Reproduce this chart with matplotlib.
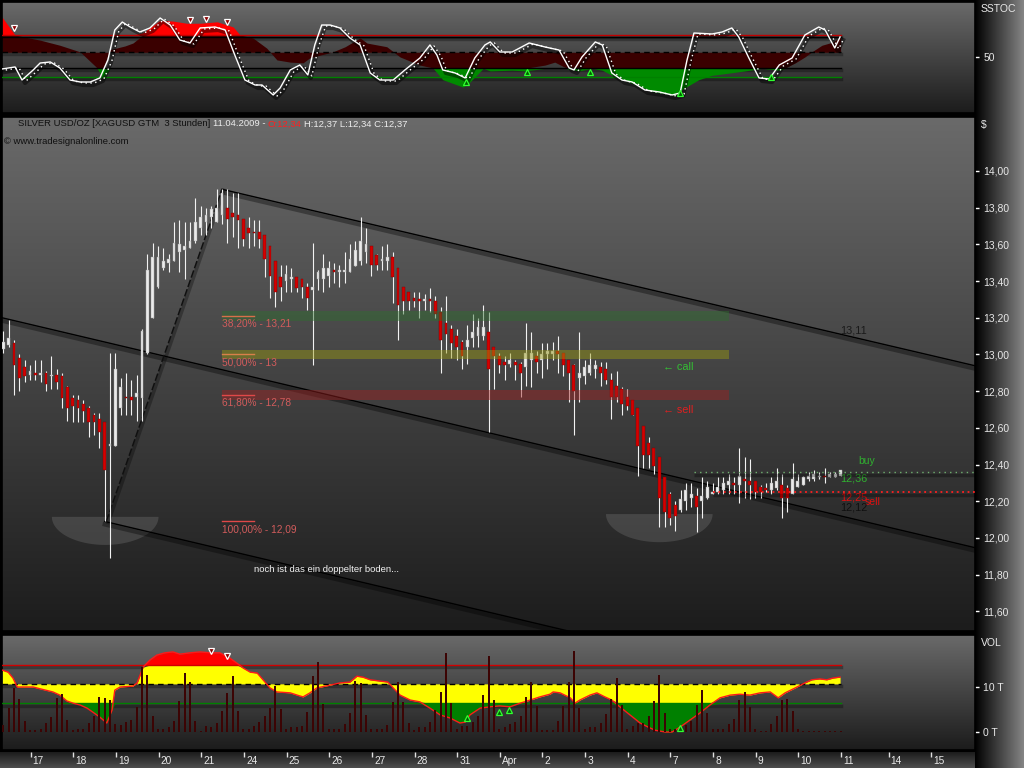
import numpy as np
import matplotlib
matplotlib.use("Agg")
import matplotlib.pyplot as plt
from matplotlib.colors import LinearSegmentedColormap
from matplotlib.transforms import offset_copy

plt.rcParams['font.family'] = ['Liberation Sans', 'DejaVu Sans']

# ---- XAGUSD 3h bars ----
opens = [13.03, 13.05, 13.06, 12.98, 12.93, 12.89, 12.90, 12.89, 12.90, 12.88,
         12.89, 12.88, 12.82, 12.76, 12.75, 12.73, 12.71, 12.67, 12.65, 12.63,
         12.50, 12.50, 12.71, 12.77, 12.77, 12.77, 12.76, 13.01, 13.20, 13.37,
         13.47, 13.50, 13.51, 13.56, 13.57, 13.58, 13.62, 13.69, 13.72, 13.75,
         13.72, 13.76, 13.80, 13.77, 13.76, 13.74, 13.69, 13.67, 13.67, 13.65,
         13.59, 13.51, 13.42, 13.40, 13.41, 13.42, 13.41, 13.37, 13.35, 13.41,
         13.41, 13.43, 13.46, 13.45, 13.45, 13.45, 13.48, 13.51, 13.56, 13.59,
         13.54, 13.51, 13.51, 13.53, 13.47, 13.37, 13.34, 13.31, 13.30, 13.29,
         13.30, 13.29, 13.23, 13.17, 13.14, 13.10, 13.07, 13.04, 13.09, 13.10,
         13.10, 13.12, 13.04, 12.99, 12.96, 12.95, 12.96, 12.95, 12.93, 12.97,
         12.99, 12.97, 13.00, 13.00, 13.02, 13.01, 12.97, 12.94, 12.87, 12.88,
         12.90, 12.92, 12.93, 12.92, 12.86, 12.83, 12.81, 12.77, 12.75, 12.71,
         12.61, 12.52, 12.49, 12.44, 12.33, 12.24, 12.18, 12.15, 12.20, 12.22,
         12.23, 12.20, 12.22, 12.24, 12.25, 12.26, 12.29, 12.30, 12.29, 12.32,
         12.31, 12.31, 12.28, 12.27, 12.26, 12.27, 12.29, 12.27, 12.24, 12.28,
         12.29, 12.32, 12.32, 12.33, 12.34, 12.33, 12.33, 12.34]
highs = [13.13, 13.19, 13.08, 13.00, 12.97, 12.94, 12.97, 12.97, 12.91, 12.99,
         12.92, 12.90, 12.83, 12.78, 12.78, 12.75, 12.72, 12.68, 12.68, 12.63,
         13.01, 13.01, 12.87, 12.90, 12.86, 12.89, 13.14, 13.55, 13.61, 13.59,
         13.58, 13.55, 13.72, 13.73, 13.72, 13.72, 13.85, 13.81, 13.80, 13.81,
         13.90, 13.90, 13.90, 13.88, 13.88, 13.74, 13.75, 13.73, 13.73, 13.65,
         13.59, 13.51, 13.49, 13.49, 13.47, 13.42, 13.41, 13.39, 13.61, 13.46,
         13.55, 13.51, 13.50, 13.49, 13.56, 13.60, 13.62, 13.75, 13.69, 13.59,
         13.55, 13.59, 13.60, 13.56, 13.47, 13.37, 13.34, 13.34, 13.34, 13.33,
         13.36, 13.32, 13.26, 13.32, 13.16, 13.14, 13.08, 13.16, 13.22, 13.20,
         13.27, 13.23, 13.04, 13.01, 12.99, 13.01, 12.97, 12.96, 13.17, 13.12,
         13.02, 13.06, 13.06, 13.07, 13.10, 13.01, 12.97, 12.95, 13.12, 12.97,
         13.01, 12.97, 12.96, 12.96, 12.90, 12.91, 12.82, 12.81, 12.75, 12.71,
         12.61, 12.55, 12.49, 12.44, 12.33, 12.25, 12.20, 12.26, 12.30, 12.30,
         12.27, 12.33, 12.31, 12.30, 12.33, 12.33, 12.35, 12.33, 12.49, 12.44,
         12.43, 12.31, 12.29, 12.30, 12.33, 12.38, 12.35, 12.29, 12.41, 12.35,
         12.34, 12.36, 12.37, 12.36, 12.38, 12.36, 12.36, 12.37]
lows = [13.01, 13.04, 12.78, 12.80, 12.85, 12.86, 12.86, 12.85, 12.80, 12.81,
        12.81, 12.71, 12.64, 12.63, 12.63, 12.63, 12.55, 12.56, 12.49, 12.09,
        11.89, 12.50, 12.67, 12.67, 12.67, 12.64, 12.64, 13.00, 13.20, 13.36,
        13.46, 13.45, 13.51, 13.45, 13.41, 13.58, 13.61, 13.65, 13.65, 13.69,
        13.72, 13.71, 13.61, 13.64, 13.58, 13.59, 13.58, 13.59, 13.58, 13.42,
        13.31, 13.26, 13.29, 13.34, 13.34, 13.34, 13.31, 13.24, 12.94, 13.35,
        13.34, 13.37, 13.39, 13.37, 13.39, 13.45, 13.48, 13.49, 13.50, 13.43,
        13.46, 13.46, 13.46, 13.28, 13.08, 13.22, 13.24, 13.26, 13.20, 13.24,
        13.23, 13.20, 12.90, 13.01, 12.98, 12.97, 12.92, 12.95, 13.04, 13.04,
        13.08, 12.58, 12.81, 12.90, 12.86, 12.93, 12.86, 12.77, 12.83, 12.82,
        12.90, 12.87, 12.92, 12.97, 12.90, 12.88, 12.74, 12.56, 12.74, 12.84,
        12.89, 12.87, 12.83, 12.84, 12.65, 12.74, 12.67, 12.70, 12.67, 12.34,
        12.38, 12.38, 12.35, 12.06, 12.06, 12.07, 12.04, 12.14, 12.15, 12.17,
        12.03, 12.11, 12.21, 12.24, 12.24, 12.24, 12.24, 12.24, 12.19, 12.22,
        12.21, 12.22, 12.22, 12.25, 12.24, 12.26, 12.11, 12.14, 12.24, 12.28,
        12.29, 12.31, 12.31, 12.32, 12.30, 12.33, 12.33, 12.34]
closes = [13.07, 13.09, 12.94, 12.87, 12.88, 12.91, 12.89, 12.90, 12.84, 12.89,
          12.85, 12.76, 12.71, 12.72, 12.71, 12.69, 12.63, 12.63, 12.58, 12.37,
          12.51, 12.92, 12.82, 12.76, 12.75, 12.79, 13.13, 13.46, 13.53, 13.53,
          13.51, 13.52, 13.61, 13.60, 13.59, 13.62, 13.72, 13.75, 13.76, 13.79,
          13.80, 13.88, 13.74, 13.75, 13.73, 13.63, 13.66, 13.66, 13.63, 13.52,
          13.43, 13.34, 13.37, 13.44, 13.42, 13.36, 13.37, 13.31, 13.37, 13.45,
          13.47, 13.47, 13.45, 13.46, 13.46, 13.52, 13.57, 13.62, 13.60, 13.49,
          13.49, 13.52, 13.53, 13.42, 13.27, 13.29, 13.29, 13.29, 13.29, 13.30,
          13.29, 13.22, 13.08, 13.11, 13.06, 13.04, 12.99, 13.08, 13.12, 13.15,
          13.15, 12.92, 12.99, 12.94, 12.94, 12.97, 12.94, 12.90, 13.01, 13.01,
          12.96, 13.00, 13.02, 13.02, 13.00, 12.94, 12.90, 12.80, 12.90, 12.93,
          12.94, 12.94, 12.90, 12.86, 12.77, 12.77, 12.73, 12.72, 12.67, 12.50,
          12.45, 12.45, 12.39, 12.22, 12.14, 12.11, 12.12, 12.21, 12.26, 12.24,
          12.17, 12.23, 12.28, 12.25, 12.28, 12.30, 12.31, 12.29, 12.34, 12.31,
          12.29, 12.25, 12.25, 12.26, 12.30, 12.31, 12.22, 12.22, 12.32, 12.31,
          12.33, 12.34, 12.35, 12.34, 12.33, 12.35, 12.35, 12.37]

# volume in thousands (T)
volume = [1.6, 5.3, 9.8, 7.3, 2.4, 0.4, 0.4, 0.7, 2.0, 3.3,
          7.6, 8.4, 2.6, 0.4, 0.7, 0.7, 2.0, 3.6, 7.8, 7.6,
          7.1, 1.8, 1.6, 2.2, 2.6, 5.6, 14.4, 12.7, 3.6, 0.6,
          0.6, 1.1, 2.4, 6.9, 13.1, 11.1, 2.4, 0.2, 1.3, 1.1,
          2.0, 4.7, 8.7, 12.4, 4.7, 0.7, 0.7, 1.3, 2.2, 3.6,
          5.3, 10.2, 5.1, 0.6, 1.1, 1.1, 1.3, 4.4, 12.4, 15.6,
          6.2, 0.6, 0.7, 0.6, 1.8, 4.2, 11.3, 10.9, 3.8, 0.7,
          0.6, 0.6, 1.6, 6.7, 11.1, 6.7, 2.0, 0.4, 1.1, 1.1,
          2.2, 4.9, 8.9, 17.6, 6.4, 0.7, 1.3, 1.3, 2.2, 3.6,
          8.2, 16.9, 7.1, 0.6, 1.1, 1.8, 2.2, 3.6, 7.8, 11.1,
          5.8, 0.4, 0.4, 0.4, 2.4, 5.8, 11.1, 18.0, 5.3, 0.7,
          1.1, 1.1, 2.0, 4.0, 7.3, 12.0, 6.0, 0.6, 1.3, 2.0,
          2.0, 3.6, 6.9, 12.7, 4.2, 0.6, 0.7, 1.1, 1.6, 2.4,
          6.0, 9.3, 4.2, 0.6, 0.6, 0.6, 1.8, 2.9, 7.1, 8.9,
          5.6, 0.6, 0.2, 0.2, 1.8, 3.6, 7.1, 7.3, 4.7, 0.6,
          0.15, 0.15, 0.15, 0.15, 0.15, 0.15, 0.15, 0.15]

# volume average curve (bar position, T)
vol_ma_bar = [-0.3, 0.9, 1.8, 2.6, 5.6, 6.9, 9.3, 10.6, 11.9, 13.1, 14.4, 15.7,
              16.8, 18.1, 19.4, 20.4, 20.9, 21.9, 24.3, 25.1, 26.2, 27.5, 28.8,
              30.3, 31.8, 33.1, 35.0, 36.9, 38.8, 40.6, 42.5, 43.8, 45.0, 46.3,
              47.6, 48.7, 50.0, 51.3, 53.8, 55.1, 56.2, 57.5, 58.8, 61.2, 63.1,
              65.0, 66.3, 67.4, 68.8, 72.1, 73.1, 74.4, 76.3, 78.1, 80.0, 81.9,
              83.8, 85.6, 86.6, 87.5, 89.4, 91.3, 93.1, 95.0, 96.9, 98.8, 100.6,
              102.5, 103.1, 104.4, 106.3, 107.2, 108.1, 110.0, 111.3, 112.8,
              114.1, 115.6, 117.5, 119.4, 120.9, 122.2, 124.1, 125.4, 126.9,
              128.8, 130.6, 132.5, 134.4, 136.3, 138.1, 140.0, 141.9, 143.8,
              145.3, 146.6, 148.5, 150.3, 151.6, 153.1, 154.4, 155.6, 156.9]
vol_ma = [13.8, 13.3, 12.0, 10.0, 10.0, 9.6, 8.9, 8.2, 6.9, 6.4, 6.0, 5.3,
          4.4, 3.3, 2.0, 4.9, 9.3, 10.0, 10.2, 10.9, 14.4, 16.0, 17.1,
          17.6, 17.8, 17.3, 17.6, 17.8, 17.6, 17.6, 16.4, 15.3, 14.2, 13.3,
          13.1, 11.6, 9.8, 8.9, 8.7, 8.2, 7.8, 8.7, 9.8, 10.4, 10.9,
          11.1, 12.4, 12.2, 11.6, 11.1, 9.8, 8.2, 7.1, 6.7, 5.3, 3.8,
          3.1, 2.0, 2.2, 3.8, 5.3, 5.6, 5.8, 5.6, 6.4, 7.1, 7.8,
          8.4, 8.9, 8.7, 7.6, 6.4, 7.1, 8.2, 8.7, 7.8,
          7.1, 5.6, 3.8, 2.0, 1.1, 0.4, 0.0, 0.0, 1.1,
          2.7, 4.2, 6.0, 7.6, 8.2, 8.4, 8.2, 8.7, 8.9,
          7.6, 8.7, 9.8, 10.9, 11.6, 11.8, 11.6, 12.0, 12.2]

# SSTOC: filled oscillator and %K line (bar position, value)
sst_fill_bar = [-0.3, 1.2, 2.2, 4.1, 6.9, 10.6, 14.4, 17.6, 18.7, 20.0, 22.8,
                24.3, 26.2, 29.4, 31.8, 34.4, 36.9, 40.1, 43.1, 44.4, 46.8,
                49.4, 51.3, 53.8, 56.2, 57.5, 61.8, 64.1, 66.9, 68.2, 71.9,
                74.4, 78.1, 80.6, 82.4, 86.2, 87.5, 90.0, 91.3, 95.4, 97.8,
                101.6, 103.4, 105.3, 107.9, 110.4, 112.3, 114.1, 117.9, 122.2,
                125.9, 127.8, 130.4, 132.9, 136.1, 139.1, 142.3, 145.5, 146.6,
                148.5, 150.3, 151.6, 153.5, 155.4, 157.0]
sst_fill = [105, 90, 80, 77, 73, 66, 57, 35, 21, 60, 65, 69, 83, 100, 99, 96,
            96, 98, 91, 80, 76, 62, 46, 43, 42, 49, 57, 64, 76, 69, 64, 50, 39,
            35, 19, 9, 16, 35, 31, 32, 31, 39, 43, 36, 31, 35, 32, 25, 14, 2,
            -2, 8, 19, 25, 28, 31, 35, 32, 35, 42, 50, 57, 66, 70, 77]
sst_k_bar = [-0.3, 2.2, 3.5, 5.6, 6.9, 8.8, 10.6, 12.5, 14.4, 16.3, 18.1, 19.6,
             20.9, 22.3, 23.8, 25.6, 27.5, 29.4, 31.3, 33.1, 35.0, 36.9, 39.7,
             41.6, 43.4, 45.3, 47.2, 48.5, 50.6, 51.9, 53.8, 55.6, 57.1, 58.4,
             59.7, 61.3, 63.1, 65.0, 66.9, 68.8, 70.6, 73.1, 75.3, 78.1, 80.0,
             81.3, 82.4, 84.7, 86.6, 88.4, 90.3, 91.3, 93.1, 95.4, 98.6, 101.6,
             104.2, 106.1, 107.0, 108.5, 111.0, 112.3, 114.1, 116.0, 117.9,
             120.3, 123.0, 125.4, 126.9, 128.2, 129.5, 132.9, 134.8, 136.6,
             137.9, 139.8, 141.7, 143.6, 145.5, 147.9, 150.3, 152.9, 154.1,
             155.9, 156.9]
sst_k = [33.6, 36.4, 18.6, 32.3, 41.8, 43.2, 35.0, 18.6, 15.9, 15.9, 21.4, 45.9,
         86.8, 97.7, 90.9, 84.1, 89.6, 103.2, 93.6, 73.2, 69.1, 89.6, 90.9,
         86.8, 52.7, 18.6, 11.8, 11.8, -1.8, 7.7, 32.3, 39.1, 25.5, 66.4,
         93.6, 93.6, 89.6, 75.9, 66.4, 28.2, 18.6, 18.6, 32.3, 48.6, 66.4,
         52.7, 32.3, 28.2, 21.4, 48.6, 66.4, 70.5, 56.8, 56.8, 69.1, 63.6,
         59.5, 35.0, 32.3, 50.0, 70.5, 66.4, 28.2, 18.6, 15.9,
         5.0, 2.3, -1.8, 0.9, 45.9, 82.7, 81.4, 84.1, 89.6,
         77.3, 48.6, 21.4, 20.0, 39.1, 48.6, 80.0, 90.9, 86.8,
         62.3, 77.3]
sst_sell_bar = [2.0, 35.0, 38.0, 41.9]
sst_sell = [89.6, 100.5, 101.8, 97.7]
sst_buy_bar = [86.8, 98.2, 110.0, 126.9, 144.0]
sst_buy = [15.9, 29.5, 29.5, 0.9, 22.7]
vol_sell_bar = [39.0, 41.9]
vol_sell = [18.0, 16.9]
vol_buy_bar = [86.9, 93.0, 94.8, 126.9]
vol_buy = [3.1, 4.4, 4.9, 0.9]

# drawn tools
fib_pct = ["38,20%", "50,00%", "61,80%", "100,00%"]
fib_val = [13.21, 13.00, 12.78, 12.09]
fib_txt = ["13,21", "13", "12,78", "12,09"]
upper_line = [(41, 13.90), (157, 13.11)]
mid_line = [(-0.25, 13.20), (157, 12.12)]
low_line_start = (19, 12.09)
rally_line = [(19.3, 12.09), (41, 13.90)]
bowls = [(19.1, 12.115), (123.0, 12.13)]
buy_level, sell_level = 12.36, 12.25

day_labels = ["17", "18", "19", "20", "21", "24", "25", "26", "27", "28", "31",
              "Apr", "2", "3", "4", "7", "8", "9", "10", "11", "14", "15"]
day_ticks = [5.1 + 8 * i for i in range(20)] + [166.0, 174.0]

XL = (-0.25, 182.2)
TXT = '#e8e8e8'


def fx(p):
    return p / 1024.0


def fy(p):
    return 1 - p / 768.0


def gradient(ax, c1, c2, horizontal=False):
    g = np.linspace(0, 1, 256)
    g = g.reshape(1, -1) if horizontal else g.reshape(-1, 1)
    cmap = LinearSegmentedColormap.from_list('g', [c1, c2])
    ax.imshow(g, cmap=cmap, aspect='auto', extent=[0, 1, 0, 1],
              transform=ax.transAxes, zorder=-10, interpolation='bilinear')


def shadow(ax, dx=1, dy=-2.5):
    return offset_copy(ax.transData, fig=fig, x=dx, y=dy, units='dots')


fig = plt.figure(figsize=(10.24, 7.68), dpi=100, facecolor='black')

# right scale strip and bottom date band
strip = fig.add_axes([fx(975), 0, fx(49), 1])
gradient(strip, '#000000', '#858585', horizontal=True)
strip.set_axis_off()

ax_b = fig.add_axes([0, 0, fx(975), 16 / 768])
gradient(ax_b, '#1c1c1c', '#4e4e4e')
ax_b.set_xlim(XL[0] - 2 / 5.333, XL[1])
ax_b.set_ylim(0, 1)
ax_b.set_xticks(day_ticks)
ax_b.set_yticks([])
ax_b.tick_params(axis='x', top=True, bottom=False, direction='in', length=3.5,
                 width=1, color='#e0e0e0', labelbottom=False)
for s in ax_b.spines.values():
    s.set_visible(False)
for t, lab in zip(day_ticks, day_labels):
    ax_b.text(t + 0.4, 0.42, lab, color=TXT, fontsize=7.3, ha='left',
              va='center', transform=ax_b.get_xaxis_transform())

ax_s = fig.add_axes([fx(2), fy(113), 973 / 1024, 111 / 768])
ax_p = fig.add_axes([fx(2), fy(631), 973 / 1024, 514 / 768])
ax_v = fig.add_axes([fx(2), fy(750), 973 / 1024, 115 / 768])
for ax in (ax_s, ax_p, ax_v):
    gradient(ax, '#6a6a6a', '#1c1c1c')
    for s in ax.spines.values():
        s.set_color('black')
        s.set_linewidth(1.2)
    ax.tick_params(axis='y', left=False, labelleft=False, right=True,
                   labelright=True, direction='out', length=3, width=1,
                   color='white', labelcolor=TXT, labelsize=7.5, pad=3)
    ax.tick_params(axis='x', bottom=False, labelbottom=False)

# ---------------- SSTOC panel ----------------
xs = np.array(sst_fill_bar)
cs = np.array(sst_fill, dtype=float)
for lvl, col, ls in [(80, '#c00000', '-'), (77.7, 'black', '-'),
                     (56.4, 'black', (0, (4, 3))), (34.5, 'black', '-'),
                     (22.3, '#008000', '-')]:
    ax_s.plot([XL[0], 157], [lvl, lvl], color='black', alpha=0.3, lw=2.5,
              transform=shadow(ax_s, 0, -2), zorder=1)
    ax_s.plot([XL[0], 157], [lvl, lvl], color=col, lw=1, ls=ls, zorder=3)
ax_s.fill_between(xs, 56.4, np.clip(cs, 34.5, 80), color='#3a0000', lw=0, zorder=2)
ax_s.fill_between(xs, 80, np.maximum(cs, 80), color='#ff0000', lw=0, zorder=2)
ax_s.fill_between(xs, 34.5, np.minimum(cs, 34.5), color='#008a00', lw=0, zorder=2)
ax_s.plot(sst_k_bar, sst_k, color='black', alpha=0.45, lw=3,
          transform=shadow(ax_s, 3, -3), zorder=4)
ax_s.plot(sst_k_bar, sst_k, color='white', lw=1, ls=(0, (1, 2.5)),
          transform=shadow(ax_s, 4, -1), zorder=5)
ax_s.plot(sst_k_bar, sst_k, color='white', lw=1, zorder=5)
ax_s.plot(sst_sell_bar, sst_sell, 'v', ms=5, mfc='#8a0000', mec='white',
          mew=0.9, zorder=6)
ax_s.plot(sst_buy_bar, sst_buy, '^', ms=5, mfc='#006000', mec='#30ff30',
          mew=0.9, zorder=6)
ax_s.set_xlim(XL)
ax_s.set_ylim(-26.4, 125.0)
ax_s.set_yticks([50])
ax_s.set_yticklabels(["50"])

# ---------------- price panel ----------------
o, h, l, c = (np.array(v) for v in (opens, highs, lows, closes))
x = np.arange(len(c))
up = c >= o

for (bx, by) in bowls:
    t = np.linspace(np.pi, 2 * np.pi, 60)
    ax_p.fill(bx + 10 * np.cos(t), by + 0.153 * np.sin(t), color='white',
              alpha=0.12, lw=0, zorder=1)

slope = (upper_line[1][1] - upper_line[0][1]) / (upper_line[1][0] - upper_line[0][0])
mslope = (mid_line[1][1] - mid_line[0][1]) / (mid_line[1][0] - mid_line[0][0])
chan = [
    ([upper_line[0][0], XL[1]], [upper_line[0][1], upper_line[0][1] + slope * (XL[1] - upper_line[0][0])]),
    ([mid_line[0][0], XL[1]], [mid_line[0][1], mid_line[0][1] + mslope * (XL[1] - mid_line[0][0])]),
    ([low_line_start[0], XL[1]], [low_line_start[1], low_line_start[1] + mslope * (XL[1] - low_line_start[0])]),
]
for cx, cy in chan:
    ax_p.plot(cx, cy, color='black', alpha=0.35, lw=3, transform=shadow(ax_p, 0, -3),
              zorder=2)
    ax_p.plot(cx, cy, color='black', lw=1, zorder=2.5)
rx, ry = zip(*rally_line)
ax_p.plot(rx, ry, color='black', alpha=0.3, lw=2.5, transform=shadow(ax_p, 2, -1), zorder=2)
ax_p.plot(rx, ry, color='#101010', lw=1.1, ls=(0, (5, 1.5)), zorder=2.5)

ax_p.vlines(x, l, h, color='#f2f2f2', lw=0.8, zorder=3)
ax_p.bar(x[up], (c - o)[up], bottom=o[up], width=0.55, color='#ebebeb',
         edgecolor='#a0a0a0', lw=0.3, zorder=4)
ax_p.bar(x[~up], (c - o)[~up], bottom=o[~up], width=0.55, color='#d40000',
         edgecolor='#7a0000', lw=0.3, zorder=4)

band_cols = ['#2e6e2e', '#9a9a10', '#a02020']
line_cols = ['#d8704a', '#d8804a', '#e04848', '#e04848']
for i, (p, v, tx) in enumerate(zip(fib_pct, fib_val, fib_txt)):
    if i < 3:
        ax_p.fill_between([41, 136], v - 0.027, v + 0.027, color=band_cols[i],
                          alpha=0.45, lw=0, zorder=5)
    ax_p.plot([41, 47], [v, v], color=line_cols[i], lw=1, zorder=6)
    ax_p.annotate(f"{p} - {tx}", xy=(41, v), xytext=(0, -3),
                  textcoords='offset pixels', color='#d25c5c', fontsize=7.3,
                  ha='left', va='top', zorder=6)

ax_p.hlines(buy_level, 129.5, XL[1], colors='black', alpha=0.3, lw=2.5,
            transform=shadow(ax_p, 0, -3), zorder=5)
ax_p.hlines(buy_level, 129.5, XL[1], colors='#70b070', lw=1,
            linestyles=(0, (1, 3)), zorder=6)
ax_p.hlines(sell_level, 133, XL[1], colors='black', alpha=0.3, lw=2.5,
            transform=shadow(ax_p, 0, -3), zorder=5)
ax_p.hlines(sell_level, 133, XL[1], colors='#ff2020', lw=1.3,
            linestyles=(0, (1, 2)), zorder=6)

ax_p.text(160.4, 12.42, "buy", color='#30b030', fontsize=7.5, va='center')
ax_p.text(156.9, 12.325, "12,36", color='#30b030', fontsize=7.8, va='center')
ax_p.text(156.9, 12.22, "12,25", color='#e01010', fontsize=7.8, va='center')
ax_p.text(161.6, 12.195, "sell", color='#e01010', fontsize=7.5, va='center')
ax_p.text(156.9, 12.165, "12,12", color='#101010', fontsize=7.8, va='center')
ax_p.text(156.9, 13.13, "13,11", color='#1a1a1a', fontsize=7.8, va='center')
ax_p.text(123.7, 12.93, "\u2190 call", color='#34c034', fontsize=7.8, va='center')
ax_p.text(123.7, 12.70, "\u2190 sell", color='#e02020', fontsize=7.8, va='center')
ax_p.text(47, 11.83, "noch ist das ein doppelter boden...", color='#f2f2f2',
          fontsize=6.8, va='center')

yt = np.round(np.arange(11.6, 14.01, 0.2), 2)
ax_p.set_yticks(yt)
ax_p.set_yticklabels([f"{v:.2f}".replace('.', ',') for v in yt])
ax_p.set_xlim(XL)
ax_p.set_ylim(11.493, 14.294)

t1 = ax_p.text(fx(18), fy(124), "SILVER USD/OZ [XAGUSD GTM  3 Stunden]",
               transform=fig.transFigure, color='#101010', fontsize=6.8,
               va='center', ha='left', zorder=7)
parts = [("11.04.2009 -", '#ececec'), ("O:12,34", '#ff2020'),
         ("H:12,37 L:12,34 C:12,37", '#ececec')]
prev = t1
for s, col in parts:
    prev = ax_p.annotate(s, xy=(1, 0), xycoords=prev, xytext=(2.5, 0),
                         textcoords='offset pixels', color=col, fontsize=6.8,
                         ha='left', va='bottom', zorder=7)
ax_p.text(fx(4), fy(141), "\u00a9 www.tradesignalonline.com",
          transform=fig.transFigure, color='#101010', fontsize=6.8,
          va='center', ha='left', zorder=7)

# ---------------- volume panel ----------------
xv = np.array(vol_ma_bar)
vv = np.array(vol_ma)
for lvl, col, ls in [(14.9, '#d00000', '-'), (10.7, 'black', (0, (4, 3))),
                     (6.4, '#008000', '-')]:
    ax_v.plot([XL[0], 157], [lvl, lvl], color='black', alpha=0.3, lw=2.5,
              transform=shadow(ax_v, 0, -2.5), zorder=1)
    ax_v.plot([XL[0], 157], [lvl, lvl], color=col, lw=1, ls=ls, zorder=3)
ax_v.fill_between(xv, 10.7, np.clip(vv, 6.4, 14.9), color='#ffff00', lw=0, zorder=2)
ax_v.fill_between(xv, 14.9, np.maximum(vv, 14.9), color='#ff0000', lw=0, zorder=2)
ax_v.fill_between(xv, 6.4, np.minimum(vv, 6.4), color='#008000', lw=0, zorder=2)
ax_v.plot(xv, vv, color='#ff1a1a', lw=1, zorder=3)
ax_v.bar(x, volume, width=0.4, color='#3c0404', zorder=4)
ax_v.plot(vol_sell_bar, vol_sell, 'v', ms=5, mfc='#8a0000', mec='white',
          mew=0.9, zorder=6)
ax_v.plot(vol_buy_bar, vol_buy, '^', ms=5, mfc='#006000', mec='#30ff30',
          mew=0.9, zorder=6)
ax_v.set_xlim(XL)
ax_v.set_ylim(-4.0, 21.56)
ax_v.set_yticks([0, 10])
ax_v.set_yticklabels(["0 T", "10 T"])

fig.text(fx(981), fy(8.5), "SSTOC", color=TXT, fontsize=7.5, va='center')
fig.text(fx(981), fy(125), "$", color=TXT, fontsize=7.5, va='center')
fig.text(fx(981), fy(643), "VOL", color=TXT, fontsize=7.5, va='center')

fig.savefig('out.png', dpi=100, facecolor='black')
